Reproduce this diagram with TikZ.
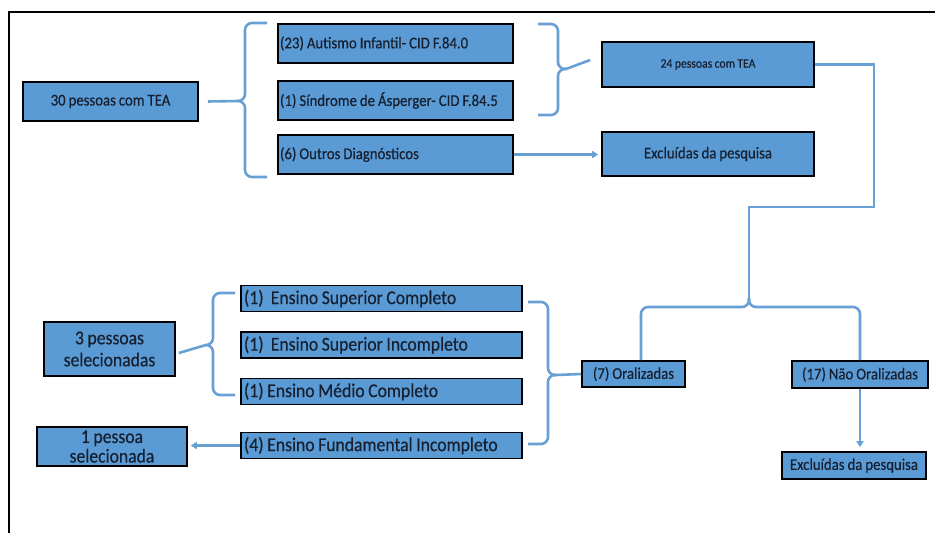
\documentclass[tikz,border=0pt]{standalone}
\usepackage{fontspec}
\setmainfont{Carlito}[FakeStretch=0.9, WordSpace=0.9, FakeBold=0.4]
\usetikzlibrary{arrows.meta}
\definecolor{boxblue}{RGB}{91,155,213}
\definecolor{lineblue}{RGB}{104,160,212}
\definecolor{inkdark}{RGB}{22,32,48}

\begin{document}
\begin{tikzpicture}[
  x=1pt, y=-1pt,
  box/.style 2 args={draw=black, fill=boxblue, line width=1.6pt, minimum width=#1, minimum height=#2, inner sep=0pt, align=center, text=inkdark, font=\fontsize{16.4}{18}\selectfont},
  topbox/.style={box={235pt}{39pt}, text width=231pt, align=flush left},
  ensbox/.style={box={281pt}{26pt}, text width=275pt, align=flush left, font=\fontsize{19.6}{21}\selectfont},
  bigtext/.style={font=\fontsize{19.6}{22}\selectfont},
  link/.style={draw=lineblue, line width=2.6pt},
  brace/.style={link, rounded corners=7pt},
  arrow/.style={link, line width=2.2pt, -{Triangle[length=6pt, width=7pt]}}
]
\useasboundingbox (0,0) rectangle (935,533);
% frame, cut by the page on the right and at the bottom
\draw[line width=2pt] (9,533) -- (9,12) -- (935,12);

% first sorting
\node[box={175pt}{39pt}] (tea30) at (110.5,101.5) {30 pessoas com TEA};
\node[topbox] (autismo) at (395.5,43.5) {(23) Autismo Infantil- CID F.84.0};
\node[topbox] (asperger) at (395.5,100.5) {(1) Síndrome de Ásperger- CID F.84.5};
\node[topbox] (outros) at (395.5,154.5) {(6) Outros Diagnósticos};
\node[box={212pt}{45pt}, font=\fontsize{13}{15}\selectfont] (tea24) at (708,64.5) {24 pessoas com TEA};
\node[box={212pt}{44pt}] (excl1) at (708,154) {Excluídas da pesquisa};

% second sorting
\node[box={103pt}{26pt}] (oral) at (633.5,374) {(7) Oralizadas};
\node[box={136pt}{27pt}] (naooral) at (860,374.5) {(17) Não Oralizadas};
\node[box={144pt}{27pt}] (excl2) at (854,465.5) {Excluídas da pesquisa};

% schooling
\node[ensbox] (supc) at (381.5,298.5) {(1)\ \ Ensino Superior Completo};
\node[ensbox] (supi) at (381.5,345) {(1)\ \ Ensino Superior Incompleto};
\node[ensbox] (medio) at (381.5,391.5) {(1) Ensino Médio Completo};
\node[ensbox] (fund) at (381.5,445.5) {(4) Ensino Fundamental Incompleto};
\node[box={131pt}{54pt}, bigtext] (sel3) at (109.5,349) {3 pessoas\\selecionadas};
\node[box={150pt}{39pt}, font=\fontsize{19.6}{19.5}\selectfont] (sel1) at (112,446.5) {1 pessoa\\selecionada};

% braces
\coordinate (b1) at (238,101);
\draw[brace] (267,23) -- (245,23) -- (245,101) -- (b1);
\draw[brace] (267,177) -- (245,177) -- (245,101) -- (b1);
\draw[link] ([xshift=9pt]tea30.east) -- (b1);

\coordinate (b2) at (566,69);
\draw[brace] (538,24) -- (558,24) -- (558,69) -- (b2);
\draw[brace] (538,115) -- (558,115) -- (558,69) -- (b2);
\draw[link] (b2) -- ([xshift=-11pt, yshift=4.5pt]tea24.west);

\coordinate (b3) at (206,345);
\draw[brace] (235,293) -- (213,293) -- (213,345) -- (b3);
\draw[brace] (235,395) -- (213,395) -- (213,345) -- (b3);
\draw[link] ([xshift=3pt, yshift=-4pt]sel3.east) -- (b3);

\coordinate (b4) at (556,375);
\draw[brace] (528,302) -- (548,302) -- (548,375) -- (b4);
\draw[brace] (528,444) -- (548,444) -- (548,375) -- (b4);
\draw[link] (b4) -- (oral.west);

\coordinate (b5) at (749,298);
\draw[brace] ([xshift=7.5pt]oral.north) -- (641,307) -- (749,307) -- (b5);
\draw[brace] (naooral.north) -- (860,307) -- (749,307) -- (b5);
\coordinate (turn) at (874,207);
\draw[link] (tea24.east) -| (turn) -| (b5);

% arrows
\draw[arrow, shorten >=3pt] (outros.east) -- (excl1.west |- outros.east);
\draw[arrow, shorten >=3pt] (fund.west) -- (sel1.east |- fund.west);
\draw[arrow, shorten >=4pt] (naooral.south) -- (naooral.south |- excl2.north);
\end{tikzpicture}
\end{document}
